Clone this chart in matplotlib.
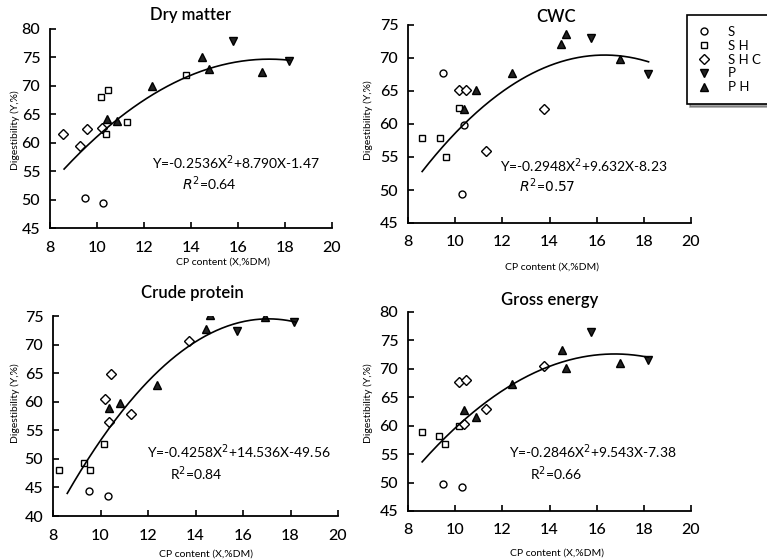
import numpy as np
import matplotlib
matplotlib.use("Agg")
import matplotlib.pyplot as plt

plt.rcParams['font.family'] = ['Lato', 'DejaVu Sans']

series_names = ["S", "S H", "S H C", "P", "P H"]

# ---- Dry matter ----
dm_S = ([9.47, 10.27], [50.2, 49.4])
dm_SH = ([10.18, 10.48, 10.38, 11.29, 13.78], [68.0, 69.2, 61.6, 63.6, 71.9])
dm_SHC = ([8.57, 9.57, 9.27, 10.2], [61.5, 62.4, 59.5, 62.6])
dm_P = ([15.79, 18.17], [77.9, 74.3])
dm_PH = ([10.41, 10.83, 12.35, 14.45, 14.76, 17.0], [64.2, 63.8, 69.9, 75.1, 73.0, 72.4])
dm_coef = [-0.2536, 8.790, -1.47]

# ---- CWC ----
cwc_S = ([9.49, 10.39, 10.29], [67.7, 59.8, 49.4])
cwc_SH = ([8.59, 9.35, 9.61, 10.17], [57.9, 57.9, 55.0, 62.4])
cwc_SHC = ([10.17, 10.48, 11.3, 13.78], [65.1, 65.1, 55.9, 62.2])
cwc_P = ([15.78, 18.17], [73.1, 67.5])
cwc_PH = ([10.38, 10.9, 12.39, 14.5, 14.72, 16.99], [62.3, 65.1, 67.8, 72.1, 73.6, 69.9])
cwc_coef = [-0.2948, 9.632, -8.23]

# ---- Crude protein ----
cp_S = ([9.51, 10.32], [44.4, 43.5])
cp_SH = ([8.25, 9.29, 9.55, 10.15], [48.0, 49.3, 48.1, 52.6])
cp_SHC = ([10.18, 10.44, 10.36, 11.28, 13.73], [60.4, 64.9, 56.4, 57.9, 70.6])
cp_P = ([15.74, 18.13], [72.3, 74.0])
cp_PH = ([10.36, 10.84, 12.38, 14.44, 14.61, 16.93], [58.9, 59.8, 63.0, 72.8, 75.1, 74.8])
cp_coef = [-0.4258, 14.536, -49.56]

# ---- Gross energy ----
ge_S = ([9.49, 10.31], [49.8, 49.2])
ge_SH = ([8.6, 9.32, 9.59, 10.17], [58.9, 58.2, 56.7, 60.0])
ge_SHC = ([10.17, 10.48, 10.38, 11.3, 13.77], [67.7, 68.0, 60.3, 63.0, 70.5])
ge_P = ([15.75, 18.17], [76.5, 71.5])
ge_PH = ([10.38, 10.9, 12.41, 14.52, 14.7, 17.0], [62.8, 61.6, 67.3, 73.4, 70.1, 71.0])
ge_coef = [-0.2846, 9.543, -7.38]

fit_range = [8.6, 18.2]

markers = {"S": dict(marker='o', mfc='white'),
           "S H": dict(marker='s', mfc='white'),
           "S H C": dict(marker='D', mfc='white'),
           "P": dict(marker='v', mfc='#222222'),
           "P H": dict(marker='^', mfc='#222222')}
msizes = {"S": 5.0, "S H": 5.0, "S H C": 4.6, "P": 5.8, "P H": 5.8}

W, H = 767, 560
fig = plt.figure(figsize=(W / 100, H / 100), dpi=100)


def px_axes(l, t, r, b):
    return fig.add_axes([l / W, 1 - b / H, (r - l) / W, (b - t) / H])


panels = [
    dict(box=(50, 29, 332, 228), data=[dm_S, dm_SH, dm_SHC, dm_P, dm_PH], coef=dm_coef,
         ylim=(45, 80), title="Dry matter", tpos=(191, 15),
         eq=r"Y=-0.2536X$^2$+8.790X-1.47", eqpos=(152, 163),
         r2=r"$\mathit{R}^2$=0.64", r2pos=(182, 184),
         xlab=(223, 262), ylab=(15, 130)),
    dict(box=(408, 25, 691, 223), data=[cwc_S, cwc_SH, cwc_SHC, cwc_P, cwc_PH], coef=cwc_coef,
         ylim=(45, 75), title="CWC", tpos=(556, 17),
         eq=r"Y=-0.2948X$^2$+9.632X-8.23", eqpos=(500, 166),
         r2=r"$\mathit{R}^2$=$\mathit{0.57}$", r2pos=(519, 186),
         xlab=(552, 267), ylab=(368, 120)),
    dict(box=(53, 316, 338, 516), data=[cp_S, cp_SH, cp_SHC, cp_P, cp_PH], coef=cp_coef,
         ylim=(40, 75), title="Crude protein", tpos=(192, 293),
         eq=r"Y=-0.4258X$^2$+14.536X-49.56", eqpos=(147, 452),
         r2=r"R$^2$=0.84", r2pos=(170, 474),
         xlab=(206, 554), ylab=(15, 403)),
    dict(box=(408, 312, 691, 511), data=[ge_S, ge_SH, ge_SHC, ge_P, ge_PH], coef=ge_coef,
         ylim=(45, 80), title="Gross energy", tpos=(550, 300),
         eq=r"Y=-0.2846X$^2$+9.543X-7.38", eqpos=(509, 452),
         r2=r"R$^2$=0.66", r2pos=(530, 474),
         xlab=(557, 553), ylab=(368, 403)),
]

handles = []
for i, p in enumerate(panels):
    ax = px_axes(*p["box"])
    for name, (xs, ys) in zip(series_names, p["data"]):
        h, = ax.plot(xs, ys, linestyle='none', mec='black', mew=1.0,
                     ms=msizes[name], label=name, **markers[name])
        if i == 0:
            handles.append(h)
    a, b, c = p["coef"]
    xf = np.linspace(fit_range[0], fit_range[1], 200)
    ax.plot(xf, a * xf ** 2 + b * xf + c, color='black', lw=1.2)
    ax.set_xlim(8, 20)
    ax.set_ylim(*p["ylim"])
    ax.set_xticks(np.arange(8, 21, 2))
    ax.set_yticks(np.arange(p["ylim"][0], p["ylim"][1] + 1, 5))
    ax.spines['top'].set_visible(False)
    ax.spines['right'].set_visible(False)
    for s in ('left', 'bottom'):
        ax.spines[s].set_linewidth(1.3)
    ax.tick_params(direction='in', length=4, width=1.2, labelsize=11.5)
    ax.tick_params(axis='x', pad=9)
    ax.tick_params(axis='y', pad=7)
    for lab in ax.get_xticklabels() + ax.get_yticklabels():
        lab.set_fontweight('medium')
    fig.text(p["tpos"][0] / W, 1 - p["tpos"][1] / H, p["title"], ha='center', va='center',
             fontsize=12, fontweight='semibold')
    fig.text(p["eqpos"][0] / W, 1 - p["eqpos"][1] / H, p["eq"], ha='left', va='center',
             fontsize=10)
    fig.text(p["r2pos"][0] / W, 1 - p["r2pos"][1] / H, p["r2"], ha='left', va='center',
             fontsize=10)
    fig.text(p["xlab"][0] / W, 1 - p["xlab"][1] / H, "CP content (X,%DM)", ha='center',
             va='center', fontsize=7.5)
    fig.text(p["ylab"][0] / W, 1 - p["ylab"][1] / H, "Digestibility (Y,%)", ha='center',
             va='center', fontsize=7.5, rotation=90)

leg = fig.legend(handles, series_names, loc='upper left',
                 bbox_to_anchor=(687 / W, 1 - 15 / H), frameon=True, fancybox=False,
                 edgecolor='black', fontsize=9.5, handlelength=1.0, handletextpad=1.3,
                 labelspacing=0.15, borderpad=0.8, borderaxespad=0, shadow=True)
leg.get_frame().set_linewidth(1.2)

fig.savefig("out.png", dpi=100, facecolor='white')
